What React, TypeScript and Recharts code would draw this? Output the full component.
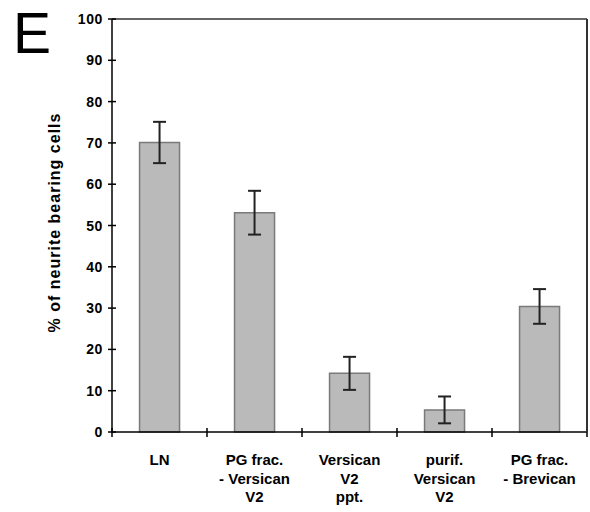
import { BarChart, Bar, XAxis, YAxis, ErrorBar, ReferenceLine } from 'recharts';

const categories = ['LN', 'PG frac.|- Versican|V2', 'Versican|V2|ppt.', 'purif.|Versican|V2', 'PG frac.|- Brevican'];
const percentages = [70.1, 53.1, 14.2, 5.3, 30.4];
const errLow = [5.0, 5.3, 4.0, 3.2, 4.2];
const errHigh = [5.0, 5.3, 4.0, 3.3, 4.2];
const yTicks = [0, 10, 20, 30, 40, 50, 60, 70, 80, 90, 100];

const data = categories.map((name, i) => ({
  name,
  value: percentages[i],
  err: [errLow[i], errHigh[i]],
}));

const font = '"Liberation Sans", Arial, sans-serif';

const YTick = (props: any) => {
  const { x, y, payload } = props;
  return (
    <g>
      <line x1={x - 4} x2={x + 4} y1={y} y2={y} stroke="#000" strokeWidth={1.5} />
      <text
        x={x - 9}
        y={y}
        dy={5}
        textAnchor="end"
        fontFamily={font}
        fontWeight="bold"
        fontSize={14}
        letterSpacing={0.6}
        fill="#000"
      >
        {payload.value}
      </text>
    </g>
  );
};

const XTick = (props: any) => {
  const { x, y, payload, index } = props;
  const lines = String(payload.value).split('|');
  const half = payload.offset || 0;
  return (
    <g>
      <line x1={x - half} x2={x - half} y1={y - 4} y2={y + 5} stroke="#000" strokeWidth={1.5} />
      {index === categories.length - 1 && (
        <line x1={x + half} x2={x + half} y1={y - 4} y2={y + 5} stroke="#000" strokeWidth={1.5} />
      )}
      <text x={x} y={y} textAnchor="middle" fontFamily={font} fontWeight="bold" fontSize={15} fill="#000">
        {lines.map((l, i) => (
          <tspan key={i} x={x} y={y + 33 + i * 18.5}>
            {l}
          </tspan>
        ))}
      </text>
    </g>
  );
};

export default function App() {
  return (
    <div style={{ position: 'absolute', left: 0, top: 0, width: 590, height: 512, background: '#fff' }}>
      <BarChart
        width={590}
        height={512}
        data={data}
        margin={{ top: 19, right: 3, bottom: 0, left: 52 }}
        barCategoryGap="29%"
      >
        <XAxis
          dataKey="name"
          tick={<XTick />}
          tickLine={false}
          tickSize={0}
          tickMargin={0}
          interval={0}
          height={80}
          axisLine={{ stroke: '#000', strokeWidth: 1.5 }}
        />
        <YAxis
          domain={[0, 100]}
          ticks={yTicks}
          tick={<YTick />}
          tickLine={false}
          tickSize={0}
          tickMargin={0}
          width={60}
          interval={0}
          axisLine={{ stroke: '#000', strokeWidth: 1.5 }}
          label={{
            value: '% of neurite bearing cells',
            angle: -90,
            position: 'insideLeft',
            dx: 2,
            dy: -3,
            offset: 0,
            style: {
              fontFamily: font,
              fontWeight: 'bold',
              fontSize: 16,
              letterSpacing: 1,
              fill: '#000',
              textAnchor: 'middle',
            },
          }}
        />
        <ReferenceLine y={100} stroke="#333" strokeWidth={1.5} />
        <Bar dataKey="value" fill="#bababa" stroke="#7a7a7a" strokeWidth={1.5} isAnimationActive={false}>
          <ErrorBar dataKey="err" width={6.5} stroke="#222" strokeWidth={2} isAnimationActive={false} />
        </Bar>
      </BarChart>
      <div
        style={{
          position: 'absolute',
          left: 13,
          top: 0,
          fontFamily: font,
          fontSize: 57,
          lineHeight: 'normal',
          color: '#000',
        }}
      >
        E
      </div>
      <div style={{ position: 'absolute', left: 586, top: 19, width: 1.5, height: 413, background: '#333' }} />
    </div>
  );
}
